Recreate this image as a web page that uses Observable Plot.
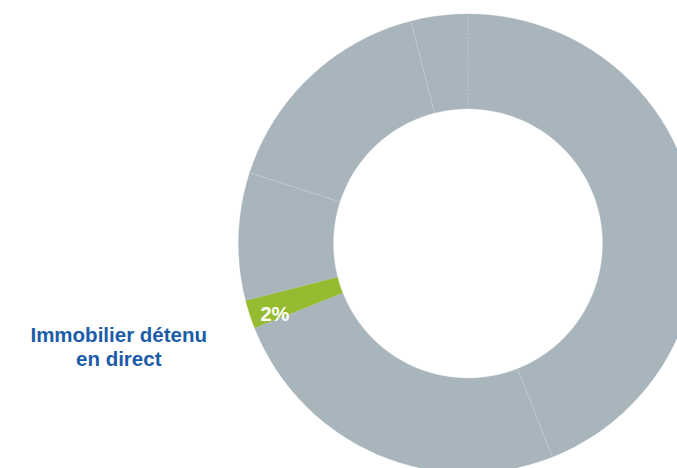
<!DOCTYPE html>
<html>
<head>
<meta charset="utf-8">
<script src="https://cdn.jsdelivr.net/npm/d3@7"></script>
<script src="https://cdn.jsdelivr.net/npm/@observablehq/plot@0.6"></script>
<style>
html, body { margin: 0; padding: 0; background: #fff; overflow: hidden; }
#chart svg { display: block; }
</style>
</head>
<body>
<div id="chart"></div>
<script>
// ---- data ----
const categories = ["Segment A", "Segment B", "Immobilier détenu en direct", "Segment D", "Segment E", "Segment F"];
const values = [44, 25, 2, 9, 16, 4];
const colors = ["#a8b5bc", "#a8b5bc", "#95bc30", "#a8b5bc", "#a8b5bc", "#a8b5bc"];
const highlightIndex = 2;
const highlightLabel = "Immobilier détenu\nen direct";
const highlightValue = "2%";

// ---- geometry derived from data ----
const innerRatio = 0.587;
const pie = d3.pie().sort(null).value(d => d)(values);
const steps = 120;
const pts = [];
pie.forEach((p, i) => {
  const n = Math.max(4, Math.ceil(steps * (p.endAngle - p.startAngle) / (2 * Math.PI)));
  for (let k = 0; k <= n; k++) {
    const a = p.startAngle + (p.endAngle - p.startAngle) * k / n;
    pts.push({cat: categories[i], x: Math.sin(a), y: Math.cos(a)});
  }
  for (let k = n; k >= 0; k--) {
    const a = p.startAngle + (p.endAngle - p.startAngle) * k / n;
    pts.push({cat: categories[i], x: innerRatio * Math.sin(a), y: innerRatio * Math.cos(a)});
  }
});

// separators between neighbouring slices of same colour
const seps = [];
pie.forEach((p, i) => {
  const prev = (i - 1 + pie.length) % pie.length;
  if (colors[prev] === colors[i]) {
    const a = p.startAngle;
    seps.push({x1: innerRatio * Math.sin(a), y1: innerRatio * Math.cos(a), x2: Math.sin(a), y2: Math.cos(a)});
  }
});

const hp = pie[highlightIndex];
const hm = (hp.startAngle + hp.endAngle) / 2;
const anchorOuter = [{x: Math.sin(hm), y: Math.cos(hm), t: highlightLabel}];
const anchorValue = [{x: 0.885 * Math.sin(hm), y: 0.885 * Math.cos(hm), t: highlightValue}];

const cx = 467.5, cy = 243, R = 229.5;
const chart = Plot.plot({
  width: 677,
  height: 468,
  margin: 0,
  style: {fontFamily: "'Liberation Sans', Arial, Helvetica, sans-serif", background: "#fff"},
  x: {domain: [-1, 1], range: [cx - R, cx + R], axis: null},
  y: {domain: [-1, 1], range: [cy + R, cy - R], axis: null},
  color: {domain: categories, range: colors},
  marks: [
    Plot.line(pts, {x: "x", y: "y", z: "cat", fill: "cat", stroke: "cat", strokeWidth: 0.3}),
    Plot.link(seps, {x1: "x1", y1: "y1", x2: "x2", y2: "y2", stroke: "#cbd4d9", strokeWidth: 0.8, strokeDasharray: "2,1.5"}),
    Plot.text(anchorValue, {x: "x", y: "y", text: "t", fill: "#ffffff", fontSize: 20, fontWeight: "bold", dy: 8, textAnchor: "middle"}),
    Plot.text(anchorOuter, {x: "x", y: "y", text: "t", fill: "#1b5ca8", fontSize: 20.5, fontWeight: "bold", dx: -131, dy: 32, textAnchor: "middle", lineHeight: 1.18})
  ]
});
document.getElementById("chart").appendChild(chart);
</script>
</body>
</html>
